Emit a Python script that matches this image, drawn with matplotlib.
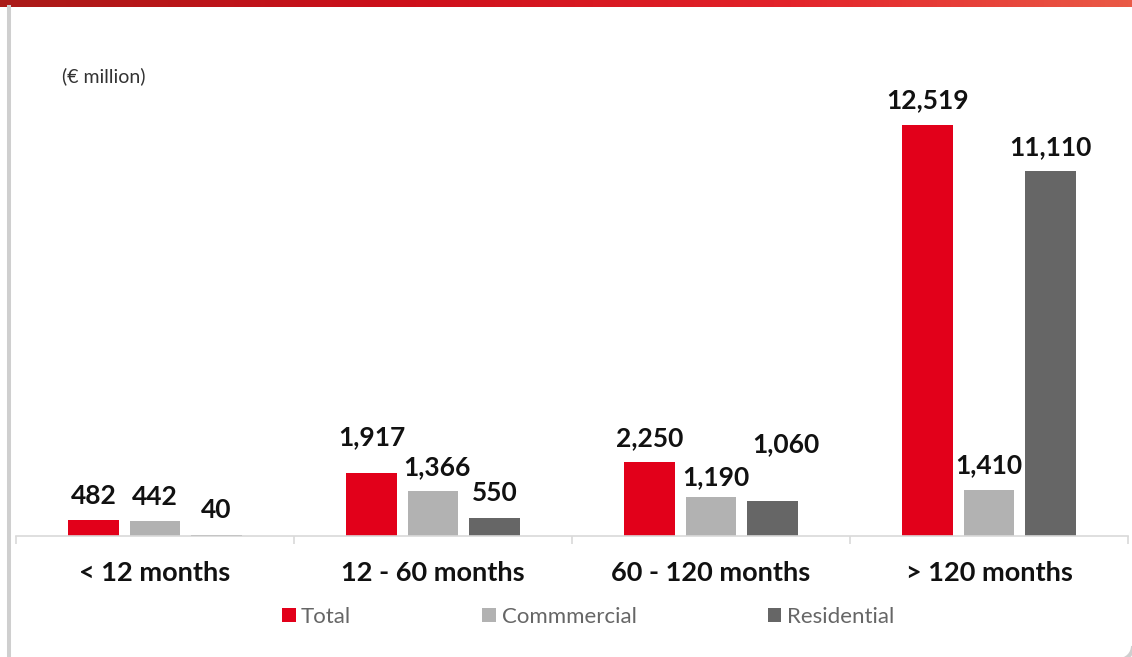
import numpy as np
import matplotlib
matplotlib.use("Agg")
import matplotlib.pyplot as plt
from matplotlib.patches import Patch, Arc
from matplotlib.lines import Line2D
from matplotlib.transforms import IdentityTransform
from matplotlib.colors import LinearSegmentedColormap

# data
categories = ["< 12 months", "12 - 60 months", "60 - 120 months", "> 120 months"]
series_names = ["Total", "Commmercial", "Residential"]
total = [482, 1917, 2250, 12519]
commercial = [442, 1366, 1190, 1410]
residential = [40, 550, 1060, 11110]
unit_label = "(€ million)"

colors = ["#E2001A", "#B2B2B2", "#666666"]

# label placement nudges (points), keyed by (series, category) - layout only
default_lift = 17.6
lift = {(0, 1): 25.9, (2, 2): 41.0, (1, 2): 14.4}
shift = {(2, 2): 9.5, (1, 1): 3.0, (1, 2): 3.5}

plt.rcParams['font.family'] = ['Lato', 'DejaVu Sans']

W, H, DPI = 1132, 657, 100
fig = plt.figure(figsize=(W / DPI, H / DPI), dpi=DPI)

# main axes (pixel layout: baseline y=536, x from 16 to 1128)
ax = fig.add_axes([16 / W, (H - 536) / H, 1112 / W, 459.6 / H])
x = np.arange(len(categories))
width = 0.183
offsets = [-0.221, 0, 0.221]
for si, (vals, off, col) in enumerate(zip([total, commercial, residential], offsets, colors)):
    bars = ax.bar(x + off, vals, width=width, color=col, zorder=2)
    for ci, (b, v) in enumerate(zip(bars, vals)):
        ax.annotate(f"{v:,}", (b.get_x() + b.get_width() / 2, v),
                    xytext=(shift.get((si, ci), 0), lift.get((si, ci), default_lift)),
                    textcoords="offset points",
                    ha="center", va="center", fontsize=19, fontweight="bold", color="#111111")

ax.set_xlim(-0.5, 3.5)
ax.set_ylim(0, 14000)
for s in ["top", "right", "left"]:
    ax.spines[s].set_visible(False)
ax.spines["bottom"].set_color("#D9D9D9")
ax.spines["bottom"].set_linewidth(1.2)
ax.set_yticks([])
ax.set_xticks(x)
ax.set_xticklabels(categories, fontsize=19.5, fontweight="bold", color="#111111")
ax.tick_params(axis="x", which="major", length=0, pad=18)
ax.set_xticks(np.arange(-0.5, 4, 1), minor=True)
ax.tick_params(axis="x", which="minor", length=6, color="#D9D9D9", width=1.2)

fig.text(62 / W, 1 - 76 / H, unit_label, fontsize=14, color="#333333", va="center", ha="left")

# legend
handles = [Patch(facecolor=c, edgecolor="none") for c in colors]
fig.legend(handles, series_names, loc="center", bbox_to_anchor=(588 / W, 1 - 617 / H),
           ncol=3, frameon=False, fontsize=16, labelcolor="#666666",
           handlelength=0.62, handleheight=0.62, handletextpad=0.25, columnspacing=5.9)

# top gradient band
band = fig.add_axes([0, 1 - 7 / H, 1, 7 / H])
cmap = LinearSegmentedColormap.from_list("band", [(0.0, "#AA1B18"), (0.35, "#CD0F1A"),
                                                  (0.7, "#E3232A"), (1.0, "#EA5A46")])
band.imshow(np.linspace(0, 1, 256)[None, :], aspect="auto", cmap=cmap, extent=[0, 1, 0, 1])
band.axis("off")

# frame: left edge and rounded bottom-right corner (display pixels)
fig.add_artist(Line2D([9, 9], [0, H - 7], transform=IdentityTransform(),
                      color="#CFCFCF", linewidth=2.9))
fig.add_artist(Arc((1119, 11), 28, 28, theta1=270, theta2=360, transform=IdentityTransform(),
                   color="#CFCFCF", linewidth=2.9))

fig.savefig("out.png", dpi=DPI)
